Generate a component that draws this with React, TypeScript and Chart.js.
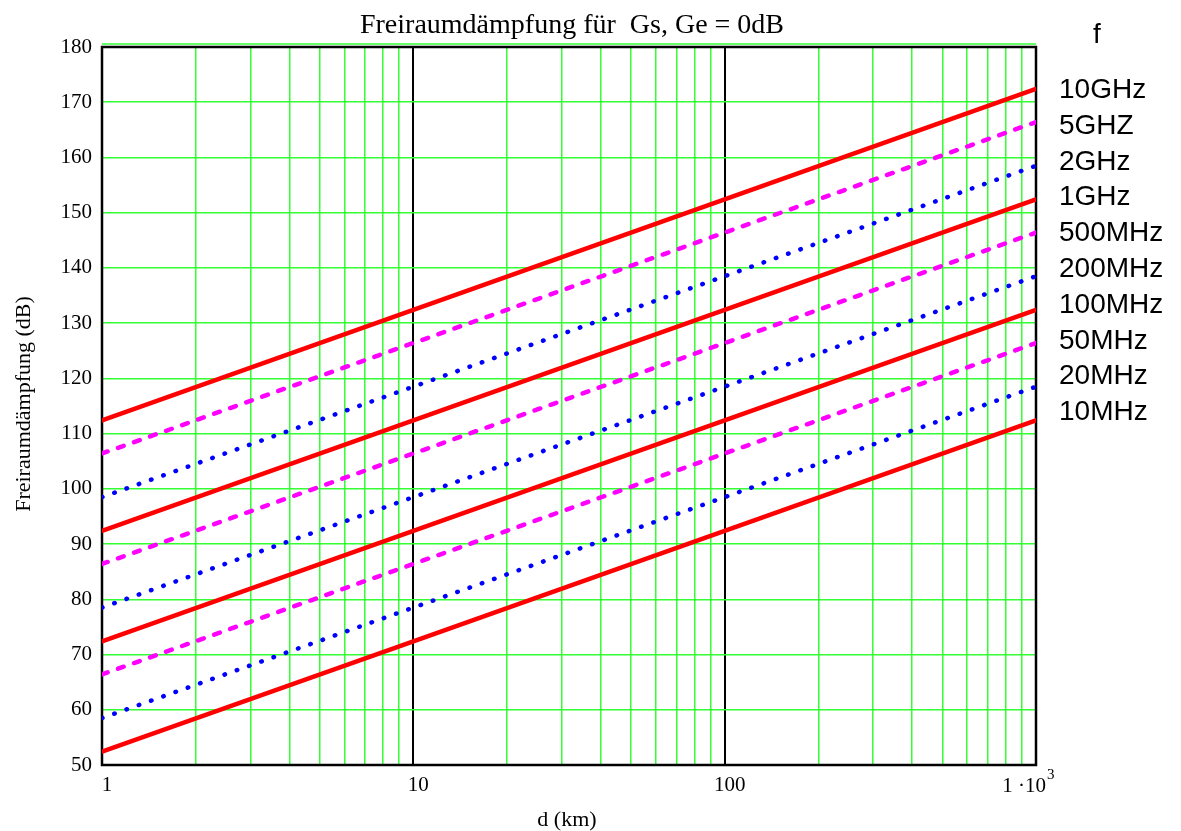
import React, { useEffect, useRef } from "react";
import { Chart, registerables } from "chart.js";

Chart.register(...registerables);

// Distance (km) sample points
const distances = [1, 10, 100, 1000];

// Free-space loss (dB) at d = 1, 10, 100, 1000 km
const loss10GHz = [112.4, 132.4, 152.4, 172.4];
const loss5GHz = [106.4, 126.4, 146.4, 166.4];
const loss2GHz = [98.5, 118.5, 138.5, 158.5];
const loss1GHz = [92.4, 112.4, 132.4, 152.4];
const loss500MHz = [86.4, 106.4, 126.4, 146.4];
const loss200MHz = [78.5, 98.5, 118.5, 138.5];
const loss100MHz = [72.4, 92.4, 112.4, 132.4];
const loss50MHz = [66.4, 86.4, 106.4, 126.4];
const loss20MHz = [58.5, 78.5, 98.5, 118.5];
const loss10MHz = [52.4, 72.4, 92.4, 112.4];

const legendLabels = ["10GHz", "5GHZ", "2GHz", "1GHz", "500MHz", "200MHz", "100MHz", "50MHz", "20MHz", "10MHz"];

const xGridValues = [1, 2, 3, 4, 5, 6, 7, 8, 9, 10, 20, 30, 40, 50, 60, 70, 80, 90, 100, 200, 300, 400, 500, 600, 700, 800, 900, 1000];
const xTickLabels: Record<number, string> = { 1: "1", 10: "10", 100: "100" };

const titleText = "Freiraumdämpfung für  Gs, Ge = 0dB";
const yTitleText = "Freiraumdämpfung (dB)";
const xTitleText = "d (km)";

const SERIF = '"Liberation Serif", "Times New Roman", serif';
const SANS = '"Liberation Sans", Arial, sans-serif';

type Style = "solid" | "dash" | "dot";
const seriesList: { values: number[]; style: Style }[] = [
  { values: loss10GHz, style: "solid" },
  { values: loss5GHz, style: "dash" },
  { values: loss2GHz, style: "dot" },
  { values: loss1GHz, style: "solid" },
  { values: loss500MHz, style: "dash" },
  { values: loss200MHz, style: "dot" },
  { values: loss100MHz, style: "solid" },
  { values: loss50MHz, style: "dash" },
  { values: loss20MHz, style: "dot" },
  { values: loss10MHz, style: "solid" },
];

function styleFor(s: Style) {
  if (s === "solid") return { borderColor: "#ff0000", borderWidth: 4.5, borderDash: [] as number[], borderCapStyle: "round" as const };
  if (s === "dash") return { borderColor: "#ff00ff", borderWidth: 4.5, borderDash: [6, 11], borderCapStyle: "round" as const };
  return { borderColor: "#0000ff", borderWidth: 4.5, borderDash: [0.5, 12.5], borderCapStyle: "round" as const };
}

const framePlugin = {
  id: "frame",
  beforeDatasetsDraw(chart: any) {
    const { ctx, chartArea } = chart;
    const { left, right, top, bottom } = chartArea;
    ctx.save();
    ctx.strokeStyle = "#33ff33";
    ctx.lineWidth = 1.5;
    ctx.beginPath();
    ctx.moveTo(left, top - 3);
    ctx.lineTo(right, top - 3);
    ctx.stroke();
    ctx.strokeStyle = "#000";
    ctx.lineWidth = 2.5;
    ctx.strokeRect(left, top, right - left, bottom - top);
    ctx.restore();
  },
  afterDraw(chart: any) {
    const { ctx } = chart;
    ctx.save();
    ctx.fillStyle = "#000";
    ctx.textBaseline = "alphabetic";
    // title
    ctx.font = `28px ${SERIF}`;
    ctx.textAlign = "center";
    ctx.fillText(titleText, 572, 33);
    // x title
    ctx.font = `22px ${SERIF}`;
    ctx.fillText(xTitleText, 567, 826);
    // y title
    ctx.save();
    ctx.translate(30, 404);
    ctx.rotate(-Math.PI / 2);
    ctx.fillText(yTitleText, 0, 0);
    ctx.restore();
    // last x tick label: 1·10^3 with real superscript
    const xs = chart.scales.x;
    const px = xs.getPixelForValue(1000);
    ctx.textAlign = "right";
    ctx.font = `21px ${SERIF}`;
    ctx.fillText("1 ·10", px + 10, 792);
    ctx.textAlign = "left";
    ctx.font = `15px ${SERIF}`;
    ctx.fillText("3", px + 11, 779);
    // legend labels
    ctx.textAlign = "left";
    ctx.font = `28px ${SANS}`;
    ctx.fillText("f", 1093, 43);
    legendLabels.forEach((lab, i) => {
      ctx.fillText(lab, 1059, 98 + i * 35.8);
    });
    ctx.restore();
  },
};

export default function App() {
  const canvasRef = useRef<HTMLCanvasElement | null>(null);

  useEffect(() => {
    const canvas = canvasRef.current;
    if (!canvas) return;
    const chart = new Chart(canvas, {
      type: "line",
      data: {
        datasets: seriesList.map((s, i) => ({
          label: legendLabels[i],
          data: distances.map((d, j) => ({ x: d, y: s.values[j] })),
          pointRadius: 0,
          tension: 0,
          fill: false,
          ...styleFor(s.style),
        })),
      },
      options: {
        animation: false,
        responsive: false,
        maintainAspectRatio: false,
        layout: { padding: { left: 0, top: 47, right: 145, bottom: 0 } },
        plugins: { legend: { display: false }, title: { display: false }, tooltip: { enabled: false } },
        scales: {
          x: {
            type: "logarithmic",
            min: 1,
            max: 1000,
            afterBuildTicks: (scale: any) => {
              scale.ticks = xGridValues.map((v) => ({ value: v }));
            },
            afterFit: (scale: any) => {
              scale.height = 66;
            },
            ticks: {
              autoSkip: false,
              maxRotation: 0,
              minRotation: 0,
              padding: 8,
              labelOffset: 5,
              color: "#000",
              font: { family: SERIF, size: 21 },
              callback: (v: any) => xTickLabels[Number(v)] ?? "",
            },
            grid: {
              drawTicks: false,
              color: (c: any) => (c.tick && (c.tick.value === 10 || c.tick.value === 100) ? "#000" : "#33ff33"),
              lineWidth: (c: any) => (c.tick && (c.tick.value === 10 || c.tick.value === 100) ? 2 : 1.5),
            },
            border: { display: false },
          },
          y: {
            min: 50,
            max: 180,
            afterFit: (scale: any) => {
              scale.width = 102;
            },
            ticks: {
              stepSize: 10,
              padding: 10,
              color: "#000",
              font: { family: SERIF, size: 21 },
            },
            grid: { drawTicks: false, color: "#33ff33", lineWidth: 1.5 },
            border: { display: false },
          },
        },
      },
      plugins: [framePlugin],
    } as any);
    return () => chart.destroy();
  }, []);

  return (
    <div style={{ position: "fixed", left: 0, top: 0, width: 1181, height: 831, background: "#fff" }}>
      <canvas ref={canvasRef} width={1181} height={831} style={{ width: 1181, height: 831, display: "block" }} />
    </div>
  );
}
